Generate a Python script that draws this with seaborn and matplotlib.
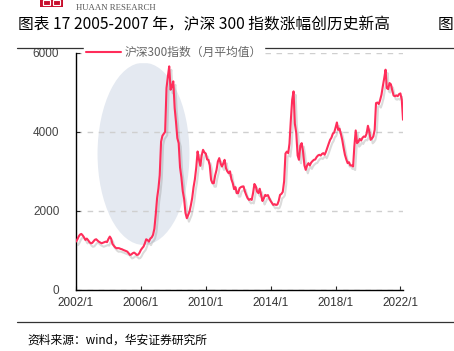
import numpy as np
import pandas as pd
import matplotlib
matplotlib.use("Agg")
import matplotlib.pyplot as plt
import matplotlib.dates as mdates
import matplotlib.patheffects as pe
from matplotlib.patches import Ellipse, Rectangle
from matplotlib.lines import Line2D
import seaborn as sns

# 沪深300指数 月平均值 (2002/1 - 2022/3)
v2002 = [1223, 1280, 1350, 1400, 1418, 1380, 1330, 1266, 1300, 1260, 1210, 1181]
v2003 = [1190, 1230, 1270, 1283, 1250, 1220, 1200, 1181, 1195, 1210, 1223, 1210]
v2004 = [1290, 1350, 1300, 1164, 1120, 1080, 1055, 1060, 1055, 1040, 1030, 1013]
v2005 = [1000, 985, 970, 930, 886, 900, 930, 945, 920, 886, 895, 940]
v2006 = [1013, 1060, 1097, 1180, 1283, 1260, 1223, 1300, 1330, 1392, 1550, 1900]
v2007 = [2321, 2574, 2900, 3750, 3900, 3950, 4000, 5105, 5400, 5654, 5063, 5150]
v2008 = [5274, 4600, 4261, 3840, 3713, 3100, 2850, 2500, 2300, 1950, 1815, 1900]
v2009 = [1983, 2150, 2321, 2600, 2800, 3100, 3502, 3300, 3139, 3400, 3544, 3480]
v2010 = [3450, 3300, 3291, 3150, 2785, 2700, 2700, 2900, 3038, 3250, 3334, 3200]
v2011 = [3122, 3200, 3291, 3080, 3000, 2954, 3000, 2800, 2700, 2550, 2600, 2447]
v2012 = [2450, 2574, 2600, 2616, 2620, 2490, 2400, 2320, 2278, 2300, 2278, 2450]
v2013 = [2680, 2620, 2490, 2450, 2560, 2400, 2250, 2320, 2405, 2380, 2400, 2320]
v2014 = [2250, 2200, 2152, 2170, 2150, 2160, 2250, 2405, 2430, 2480, 2750, 3450]
v2015 = [3500, 3460, 3700, 4300, 4810, 5021, 4200, 3966, 3400, 3291, 3650, 3713]
v2016 = [3500, 3150, 3038, 3150, 3207, 3150, 3220, 3260, 3291, 3300, 3360, 3400]
v2017 = [3418, 3400, 3440, 3460, 3420, 3500, 3600, 3700, 3797, 3850, 3950, 3980]
v2018 = [4100, 4236, 4050, 4080, 3950, 3797, 3600, 3418, 3300, 3207, 3230, 3150]
v2019 = [3150, 3122, 3628, 4034, 3713, 3750, 3820, 3780, 3850, 3882, 3870, 3950]
v2020 = [4152, 4000, 3797, 3830, 3882, 4050, 4725, 4740, 4700, 4800, 4937, 5150]
v2021 = [5350, 5570, 5105, 5080, 5232, 5200, 5050, 4915, 4900, 4920, 4900, 4950]
v2022 = [4970, 4810, 4304]

values = (v2002 + v2003 + v2004 + v2005 + v2006 + v2007 + v2008 + v2009 + v2010
          + v2011 + v2012 + v2013 + v2014 + v2015 + v2016 + v2017 + v2018
          + v2019 + v2020 + v2021 + v2022)
dates = pd.date_range("2002-01-01", periods=len(values), freq="MS")
df = pd.DataFrame({"月份": dates, "沪深300指数（月平均值）": values})

tick_years = [2002, 2006, 2010, 2014, 2018, 2022]
tick_labels = [f"{y}/1" for y in tick_years]
y_ticks = [0, 2000, 4000, 6000]

title = "图表 17 2005-2007 年，沪深 300 指数涨幅创历史新高"
source = "资料来源：wind，华安证券研究所"

sns.set_style("white")
plt.rcParams['font.family'] = ['Noto Sans CJK SC', 'DejaVu Sans']
plt.rcParams['axes.unicode_minus'] = False

fig = plt.figure(figsize=(4.54, 3.51), dpi=100)
ax = fig.add_axes([0.1674, 0.1738, 0.7203, 0.6761])

# 高亮区域 (2005-2007)
cx = mdates.date2num(pd.Timestamp("2006-03-01"))
ax.add_patch(Ellipse((cx, 3443), width=2070, height=4608,
                     facecolor="#e4e9f1", edgecolor="none", zorder=0))

line_color = "#ff2d5a"
sns.lineplot(data=df, x="月份", y="沪深300指数（月平均值）", ax=ax,
             color=line_color, linewidth=1.5, zorder=3, legend=False)
ax.lines[0].set_path_effects([
    pe.SimpleLineShadow(offset=(1.5, -2.5), shadow_color="#888888", alpha=0.3),
    pe.Normal()])

ax.set_xlim(dates[0], dates[-1])
ax.set_ylim(0, 6000)
ax.set_xticks([pd.Timestamp(f"{y}-01-01") for y in tick_years])
ax.set_xticklabels(tick_labels)
ax.set_yticks(y_ticks)
ax.set_xlabel("")
ax.set_ylabel("")

ax.yaxis.grid(True, color="#cfcfcf", linestyle=(0, (4, 4)), linewidth=1)
ax.xaxis.grid(False)
for s in ["top", "right"]:
    ax.spines[s].set_visible(False)
for s in ["left", "bottom"]:
    ax.spines[s].set_color("black")
    ax.spines[s].set_linewidth(1)

ax.tick_params(axis="x", direction="in", length=3, width=0.8, pad=5,
               labelsize=8.5, labelcolor="#333333", bottom=True)
ax.tick_params(axis="y", direction="in", length=3, width=0.8, pad=12,
               labelsize=8.5, labelcolor="#444444", left=True)
for lab in ax.get_xticklabels() + ax.get_yticklabels():
    lab.set_fontfamily(["Liberation Sans", "DejaVu Sans"])

# 图例放在 figure 层, 盖住 6000 处的虚线
handle = Line2D([], [], color=line_color, linewidth=1.5)
leg = fig.legend([handle], ["沪深300指数（月平均值）"], loc="center left",
                 bbox_to_anchor=(84 / 454, 1 - 52.7 / 351), frameon=True,
                 framealpha=1, facecolor="white", edgecolor="white",
                 fancybox=False, fontsize=8.5, handlelength=2.9,
                 handletextpad=0.3, borderpad=0.2, borderaxespad=0)
for t in leg.get_texts():
    t.set_color("#666666")

# 页眉
fig.add_artist(Rectangle((40 / 454, 1 - 7 / 351), 23 / 454, 7 / 351,
                         transform=fig.transFigure, facecolor="#c8102e",
                         edgecolor="none"))
fig.add_artist(Rectangle((43 / 454, 1 - 5 / 351), 7 / 454, 5 / 351,
                         transform=fig.transFigure, facecolor="none",
                         edgecolor="white", linewidth=0.8))
fig.add_artist(Rectangle((53 / 454, 1 - 5 / 351), 7 / 454, 5 / 351,
                         transform=fig.transFigure, facecolor="none",
                         edgecolor="white", linewidth=0.8))
fig.text(76 / 454, 1 - 7.5 / 351, "HUAAN RESEARCH", fontsize=6.3,
         family=["Liberation Serif", "DejaVu Serif"], color="#555555",
         va="center", ha="left")
fig.text(18 / 454, 1 - 25 / 351, title, fontsize=11.3, color="black",
         va="center", ha="left")
fig.text(438 / 454, 1 - 25 / 351, "图", fontsize=11.3, color="black",
         va="center", ha="left")
fig.add_artist(Line2D([17 / 454, 1], [1 - 47.5 / 351, 1 - 47.5 / 351],
                      transform=fig.transFigure, color="#333333", linewidth=0.9))
fig.add_artist(Line2D([17 / 454, 1], [1 - 322 / 351, 1 - 322 / 351],
                      transform=fig.transFigure, color="#333333", linewidth=0.9))
fig.text(27 / 454, 1 - 340 / 351, source, fontsize=8.5, color="black",
         va="center", ha="left")

fig.savefig("out.png", dpi=100)
